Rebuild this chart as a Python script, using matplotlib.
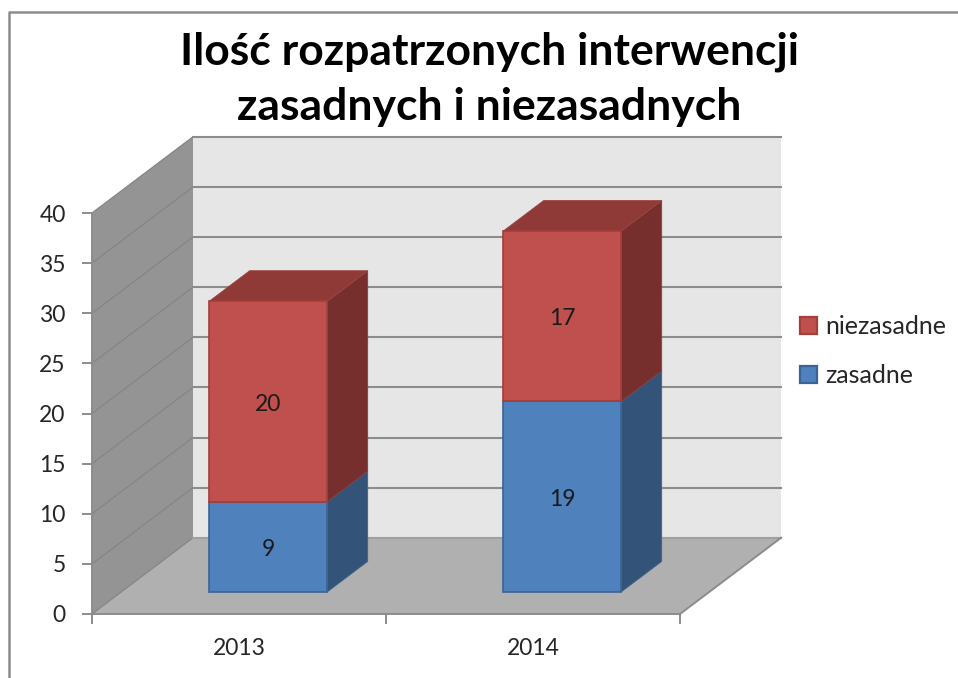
import matplotlib
matplotlib.use('Agg')
import matplotlib.pyplot as plt
from matplotlib.patches import Polygon, Patch
from matplotlib.lines import Line2D

plt.rcParams['font.family'] = ['Lato', 'DejaVu Sans']

years = ['2013', '2014']
zasadne = [9, 19]
niezasadne = [20, 17]
y_ticks = [0, 5, 10, 15, 20, 25, 30, 35, 40]

W, H = 958, 678
# front plane of the 3d box, in pixels
LEFT, RIGHT, TOP, BOTTOM = 92, 680, 213, 614
# full depth of the box in axis units (101px right, 76px up)
DEPTH_X = 101 / 294
DEPTH_Y = 7.6
BAR_WIDTH = 118 / 294
BAR_NEAR = 0.29
BAR_FAR = 0.69

GREY_LINE = '#8c8c8c'
TEXT = '#262626'

fig = plt.figure(figsize=(W / 100, H / 100), dpi=100, facecolor='white')
ax = fig.add_axes([LEFT / W, 1 - BOTTOM / H, (RIGHT - LEFT) / W, (BOTTOM - TOP) / H])
ax.set_xlim(0, 2)
ax.set_ylim(0, 40)
ax.patch.set_visible(False)


def poly(points, color, z, edge='none', lw=0):
    ax.add_patch(Polygon(points, closed=True, facecolor=color, edgecolor=edge,
                         linewidth=lw, zorder=z, clip_on=False))


def bar_label(x, y, value):
    ax.annotate(str(value), (x, y), xytext=(0, -2), textcoords='offset points', ha='center', va='center',
                fontsize=16.5, color='#1a1a1a', zorder=5)


# walls and floor
poly([(0, 0), (DEPTH_X, DEPTH_Y), (DEPTH_X, 40 + DEPTH_Y), (0, 40)], '#949494', 1)
poly([(DEPTH_X, DEPTH_Y), (2 + DEPTH_X, DEPTH_Y), (2 + DEPTH_X, 40 + DEPTH_Y), (DEPTH_X, 40 + DEPTH_Y)], '#e6e6e6', 1)
poly([(0, 0), (2, 0), (2 + DEPTH_X, DEPTH_Y), (DEPTH_X, DEPTH_Y)], '#b0b0b0', 1)

# gridlines, along the side wall and the back wall
for v in y_ticks:
    ax.plot([0, DEPTH_X], [v, v + DEPTH_Y], color='#858585', lw=0.9, zorder=2, clip_on=False)
    back_color = '#a0a0a0' if v == 0 else GREY_LINE
    ax.plot([DEPTH_X, 2 + DEPTH_X], [v + DEPTH_Y, v + DEPTH_Y], color=back_color, lw=1.5, zorder=2, clip_on=False)
ax.plot([2, 2 + DEPTH_X], [0, DEPTH_Y], color=GREY_LINE, lw=1.4, zorder=2, clip_on=False)

# stacked bars
near_x, near_y = BAR_NEAR * DEPTH_X, BAR_NEAR * DEPTH_Y
far_x, far_y = (BAR_FAR - BAR_NEAR) * DEPTH_X, (BAR_FAR - BAR_NEAR) * DEPTH_Y

for i in range(len(years)):
    x0 = i + 0.5 + near_x - BAR_WIDTH / 2
    x1 = x0 + BAR_WIDTH
    b0 = near_y
    b1 = b0 + zasadne[i]
    b2 = b1 + niezasadne[i]
    # side faces
    poly([(x1, b0), (x1 + far_x, b0 + far_y), (x1 + far_x, b1 + far_y), (x1, b1)], '#335379', 3, '#3f648f', 0.6)
    poly([(x1, b1), (x1 + far_x, b1 + far_y), (x1 + far_x, b2 + far_y), (x1, b2)], '#772f2d', 3, '#86403d', 0.6)
    # top face
    poly([(x0, b2), (x1, b2), (x1 + far_x, b2 + far_y), (x0 + far_x, b2 + far_y)], '#8f3a37', 3, '#9a4542', 0.6)
    # front faces
    ax.bar(x0, zasadne[i], BAR_WIDTH, bottom=b0, align='edge', color='#4f81bd',
           edgecolor='#3a6496', linewidth=1.2, zorder=4, clip_on=False)
    ax.bar(x0, niezasadne[i], BAR_WIDTH, bottom=b1, align='edge', color='#c0504d',
           edgecolor='#a23e3b', linewidth=1.2, zorder=4, clip_on=False)
    bar_label((x0 + x1) / 2, (b0 + b1) / 2, zasadne[i])
    bar_label((x0 + x1) / 2, (b1 + b2) / 2, niezasadne[i])

# axes
for side in ['top', 'right']:
    ax.spines[side].set_visible(False)
for side in ['left', 'bottom']:
    ax.spines[side].set_color(GREY_LINE)
    ax.spines[side].set_linewidth(1.4)
    ax.spines[side].set_zorder(2.5)
ax.set_yticks(y_ticks)
ax.set_xticks([0, 1, 2])
ax.set_xticklabels([])
ax.set_xticks([0.5, 1.5], minor=True)
ax.set_xticklabels(years, minor=True)
ax.tick_params(axis='x', which='minor', length=0, pad=17, labelsize=16.5, labelcolor=TEXT)
ax.tick_params(axis='x', which='major', length=7, width=1.4, color=GREY_LINE)
ax.tick_params(axis='y', length=7, width=1.4, color=GREY_LINE, labelsize=16.5, labelcolor=TEXT, pad=12)

# title
fig.text(489 / W, 1 - 52 / H, 'Ilość rozpatrzonych interwencji', ha='center', va='center',
         fontsize=32, fontweight='bold', color='black')
fig.text(489 / W, 1 - 107 / H, 'zasadnych i niezasadnych', ha='center', va='center',
         fontsize=32, fontweight='bold', color='black')

# legend
handles = [Patch(facecolor='#c0504d', edgecolor='#a23e3b', linewidth=1.6),
           Patch(facecolor='#4f81bd', edgecolor='#3a6496', linewidth=1.6)]
fig.legend(handles, ['niezasadne', 'zasadne'], loc='upper left',
           bbox_to_anchor=(800 / W, 1 - 315 / H), frameon=False, fontsize=18,
           handlelength=0.66, handleheight=0.66, handletextpad=0.35, labelspacing=1.05,
           borderpad=0, borderaxespad=0, labelcolor=TEXT)

# outer chart frame
fig.add_artist(Line2D([9 / W, 9 / W, 1], [0, 1 - 12 / H, 1 - 12 / H], color='#8c8c8c', lw=1.8))

fig.savefig('out.png', dpi=100)
